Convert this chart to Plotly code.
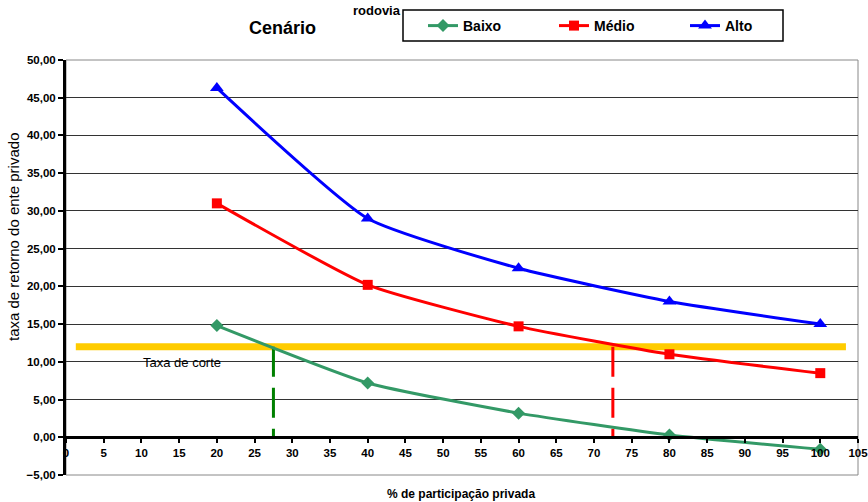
import plotly.graph_objects as go

# Data
x_pct = [20, 40, 60, 80, 100]
baixo = [14.8, 7.2, 3.2, 0.3, -1.6]
medio = [31.0, 20.2, 14.7, 11.0, 8.5]
alto = [46.3, 29.0, 22.4, 18.0, 15.0]

corte_x = [1.3, 103.4]
corte_y = [12, 12]
verde_x = [27.5, 27.5]
verde_y = [12, 0]
verm_x = [72.5, 72.5]
verm_y = [12, 0]

x_ticks = list(range(0, 106, 5))
y_ticks = list(range(-5, 51, 5))

FONT = "Liberation Sans, Arial, sans-serif"

W, H = 868, 502
L, R, T, B = 66, 858, 60, 475


def px2paper(px, py):
    return (px - L) / (R - L), (B - py) / (B - T)


fig = go.Figure()

fig.add_trace(go.Scatter(x=corte_x, y=corte_y, mode="lines",
                         line=dict(color="#FFCC00", width=7), showlegend=False, hoverinfo="skip"))
fig.add_trace(go.Scatter(x=verde_x, y=verde_y, mode="lines",
                         line=dict(color="#008000", width=3, dash="30px,11px"), showlegend=False))
fig.add_trace(go.Scatter(x=verm_x, y=verm_y, mode="lines",
                         line=dict(color="#FF0000", width=3, dash="30px,11px"), showlegend=False))

fig.add_trace(go.Scatter(x=x_pct, y=baixo, name="Baixo", mode="lines+markers",
                         line=dict(color="#339966", width=3, shape="spline", smoothing=0.5),
                         marker=dict(symbol="diamond", size=10, color="#339966")))
fig.add_trace(go.Scatter(x=x_pct, y=medio, name="Médio", mode="lines+markers",
                         line=dict(color="#FF0000", width=3, shape="spline", smoothing=0.5),
                         marker=dict(symbol="square", size=10, color="#FF0000")))
fig.add_trace(go.Scatter(x=x_pct, y=alto, name="Alto", mode="lines+markers",
                         line=dict(color="#0000FF", width=3, shape="spline", smoothing=0.5),
                         marker=dict(symbol="triangle-up", size=12, color="#0000FF")))

lx, ly = px2paper(423, 26)
bx0, by0 = px2paper(403, 41)
bx1, by1 = px2paper(783, 10)
cx, cy = px2paper(282, 28)
rx, ry = px2paper(377, 10)
tx, ty = px2paper(461, 494)
yx, yy = px2paper(14, 237)

fig.update_layout(
    width=W, height=H,
    margin=dict(l=L, r=W - R, t=T, b=H - B, autoexpand=False),
    paper_bgcolor="white", plot_bgcolor="white",
    separators=",.",
    font=dict(family=FONT, size=11, color="black"),
    showlegend=True,
    legend=dict(orientation="h", x=lx, y=ly, xanchor="left", yanchor="middle",
                borderwidth=0, bgcolor="rgba(0,0,0,0)",
                font=dict(size=14, family=FONT, weight="bold"),
                entrywidth=86, itemwidth=30),
    xaxis=dict(range=[0, 105.0001], tickvals=x_ticks, ticktext=[str(v) for v in x_ticks],
               anchor="free", position=5 / 55, showline=True, linecolor="black", linewidth=3,
               ticks="outside", ticklen=4, tickwidth=2, tickcolor="black",
               showgrid=False, zeroline=False, automargin=False, ticklabeloverflow="allow",
               tickfont=dict(size=11.5, weight="bold")),
    yaxis=dict(range=[-5, 50], tickvals=y_ticks, tickformat=".2f",
               showline=True, linecolor="black", linewidth=3,
               ticks="outside", ticklen=5, tickwidth=2, tickcolor="black",
               showgrid=True, gridcolor="#333333", gridwidth=1, zeroline=False, automargin=False,
               tickfont=dict(size=11.5, weight="bold")),
    shapes=[
        dict(type="rect", xref="paper", yref="paper", x0=0, x1=1, y0=0, y1=1,
             line=dict(color="#888888", width=1), layer="below"),
        dict(type="rect", xref="paper", yref="paper", x0=bx0, x1=bx1, y0=by0, y1=by1,
             line=dict(color="black", width=1.5), fillcolor="white", layer="below"),
    ],
    annotations=[
        dict(text="<b>Cenário</b>", x=cx, y=cy, xref="paper", yref="paper", showarrow=False,
             font=dict(size=18), xanchor="center", yanchor="middle"),
        dict(text="<b>rodovia</b>", x=rx, y=ry, xref="paper", yref="paper", showarrow=False,
             font=dict(size=13), xanchor="center", yanchor="middle"),
        dict(text="Taxa de corte", x=15.4, y=9.95, xref="x", yref="y", showarrow=False,
             font=dict(size=13)),
        dict(text="<b>% de participação privada</b>", x=tx, y=ty, xref="paper", yref="paper",
             showarrow=False, font=dict(size=12), xanchor="center", yanchor="middle"),
        dict(text="taxa de retorno do ente privado", x=yx, y=yy, xref="paper", yref="paper",
             showarrow=False, font=dict(size=15), textangle=-90,
             xanchor="center", yanchor="middle"),
    ],
)

fig.write_html(
    "out.html",
    config={"displayModeBar": False},
    post_script="document.body.style.margin='0';document.body.style.overflow='hidden';",
)
